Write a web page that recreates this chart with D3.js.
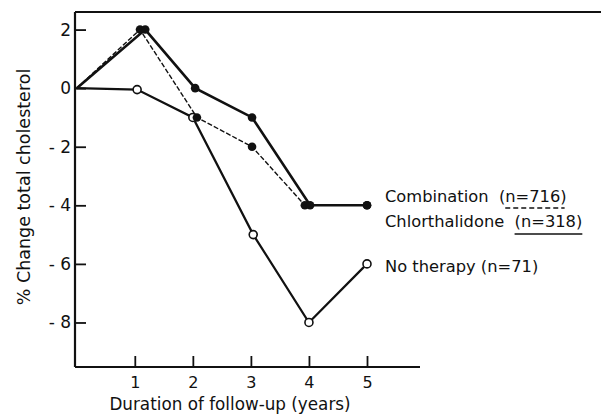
<!DOCTYPE html>
<html>
<head>
<meta charset="utf-8">
<script src="https://cdn.jsdelivr.net/npm/d3@7"></script>
<style>
  html, body { margin: 0; padding: 0; background: #fff; }
  svg { display: block; }
  text { font-family: "DejaVu Sans", sans-serif; fill: #111; }
</style>
</head>
<body>
<svg id="chart" width="601" height="415"></svg>
<script>
// ---- data ----
const xTickValues = [1, 2, 3, 4, 5];
const xTickLabels = ["1", "2", "3", "4", "5"];
const yTickValues = [2, 0, -2, -4, -6, -8];
const yTickLabels = ["2", "0", "- 2", "- 4", "- 6", "- 8"];

const combX = [0, 1.18, 2.04, 3.02, 4.02, 5.0];
const combY = [0, 2, 0, -1, -4, -4];
const chlorX = [0, 1.09, 2.07, 3.02, 3.93, 5.0];
const chlorY = [0, 2, -1, -2, -4, -4];
const noX = [0, 1.04, 2.0, 3.04, 4.0, 5.0];
const noY = [0, -0.05, -1, -5, -8, -6];

const legendLabels = ["Combination", "Chlorthalidone", "No therapy"];
const legendNs = ["(n=716)", "(n=318)", "(n=71)"];
const legendGaps = ["  ", "  ", " "];

const yTitle = "% Change total cholesterol";
const xTitle = "Duration of follow-up (years)";

// ---- drawing ----
(function () {
const W = 601, H = 415;
const svg = d3.select("#chart");
const x = d3.scaleLinear().domain([-0.03, 5]).range([75, 367]);
const y = d3.scaleLinear().domain([-9.52, 2.6]).range([367, 12]);

const ink = "#111";

// frame: left axis, top line, bottom axis (open at the right, cropped)
const leftX = x(-0.03), topY = y(2.6), bottomY = y(-9.52);
svg.append("line").attr("x1", leftX).attr("x2", leftX).attr("y1", topY).attr("y2", bottomY)
  .attr("stroke", ink).attr("stroke-width", 2.2);
svg.append("line").attr("x1", leftX).attr("x2", W).attr("y1", topY).attr("y2", topY)
  .attr("stroke", ink).attr("stroke-width", 1.8);
svg.append("line").attr("x1", leftX).attr("x2", 420).attr("y1", bottomY).attr("y2", bottomY)
  .attr("stroke", ink).attr("stroke-width", 1.8);

// y axis (ticks inward)
const yAxis = d3.axisRight(y).tickValues(yTickValues)
  .tickFormat((d, i) => yTickLabels[i]).tickSize(11).tickPadding(0);
const gy = svg.append("g").attr("transform", `translate(${leftX},0)`).call(yAxis);
gy.select(".domain").remove();
gy.selectAll(".tick line").attr("stroke", ink).attr("stroke-width", 1.8);
gy.selectAll(".tick text").attr("x", -4).attr("text-anchor", "end")
  .attr("font-size", 17).attr("font-family", "DejaVu Sans").attr("fill", ink);

// x axis (ticks inward)
const xAxis = d3.axisTop(x).tickValues(xTickValues)
  .tickFormat((d, i) => xTickLabels[i]).tickSize(11).tickPadding(0);
const gx = svg.append("g").attr("transform", `translate(0,${bottomY})`).call(xAxis);
gx.select(".domain").remove();
gx.selectAll(".tick line").attr("stroke", ink).attr("stroke-width", 1.8);
gx.selectAll(".tick text").attr("y", 15).attr("dy", "0.35em")
  .attr("font-size", 16).attr("font-family", "DejaVu Sans").attr("fill", ink);

// titles
svg.append("text").attr("transform", `translate(24,${187}) rotate(-90)`)
  .attr("text-anchor", "middle").attr("dominant-baseline", "central")
  .attr("font-size", 17.5).text(yTitle);
svg.append("text").attr("x", 230).attr("y", 404)
  .attr("text-anchor", "middle").attr("dominant-baseline", "central")
  .attr("font-size", 16.8).text(xTitle);

// series
const line = d3.line().x(d => x(d[0])).y(d => y(d[1]));
const comb = combX.map((v, i) => [v, combY[i]]);
const chlor = chlorX.map((v, i) => [v, chlorY[i]]);
const none = noX.map((v, i) => [v, noY[i]]);

svg.append("path").datum(none).attr("d", line).attr("fill", "none")
  .attr("stroke", ink).attr("stroke-width", 2.2);
svg.append("path").datum(chlor).attr("d", line).attr("fill", "none")
  .attr("stroke", ink).attr("stroke-width", 1.4).attr("stroke-dasharray", "5,2");
svg.append("path").datum(comb).attr("d", line).attr("fill", "none")
  .attr("stroke", ink).attr("stroke-width", 2.6);

svg.append("g").selectAll("circle").data(none.slice(1)).join("circle")
  .attr("cx", d => x(d[0])).attr("cy", d => y(d[1])).attr("r", 4)
  .attr("fill", "#fff").attr("stroke", ink).attr("stroke-width", 1.6);
svg.append("g").selectAll("circle").data(chlor.slice(1)).join("circle")
  .attr("cx", d => x(d[0])).attr("cy", d => y(d[1])).attr("r", 4.3).attr("fill", ink);
svg.append("g").selectAll("circle").data(comb.slice(1)).join("circle")
  .attr("cx", d => x(d[0])).attr("cy", d => y(d[1])).attr("r", 4.3).attr("fill", ink);

// legend labels next to the end points
const legendY = [196, 221, 266];
const legendX = 385;
legendLabels.forEach((lab, i) => {
  const full = lab + legendGaps[i] + legendNs[i];
  const t = svg.append("text").attr("x", legendX).attr("y", legendY[i])
    .attr("dominant-baseline", "central").attr("font-size", 16.3)
    .attr("xml:space", "preserve").style("white-space", "pre")
    .text(full);
  const node = t.node();
  const pIdx = full.indexOf("(");
  const start = legendX + node.getSubStringLength(0, pIdx);
  const parenW = node.getSubStringLength(pIdx, 1);
  const end = legendX + node.getComputedTextLength();
  if (i === 0) {
    svg.append("line").attr("x1", start + parenW).attr("x2", end - 2)
      .attr("y1", legendY[i] + 12).attr("y2", legendY[i] + 12)
      .attr("stroke", ink).attr("stroke-width", 1.5).attr("stroke-dasharray", "5,3");
  } else if (i === 1) {
    svg.append("line").attr("x1", start).attr("x2", end)
      .attr("y1", legendY[i] + 13).attr("y2", legendY[i] + 13)
      .attr("stroke", ink).attr("stroke-width", 1.6);
  }
});
})();
</script>
</body>
</html>
